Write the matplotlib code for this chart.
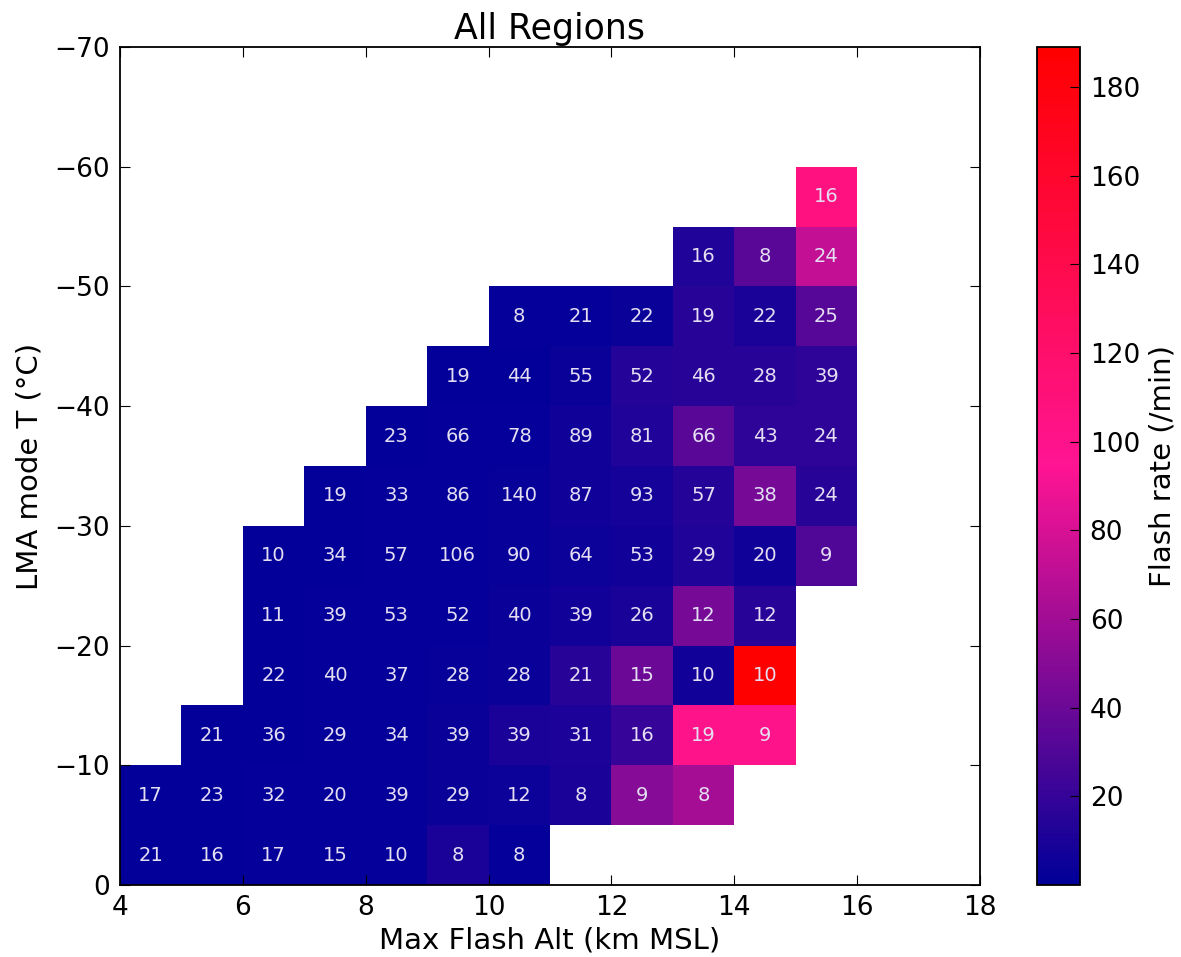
import matplotlib
matplotlib.use('Agg')
import matplotlib.pyplot as plt
from matplotlib.colors import LinearSegmentedColormap
import numpy as np

# bins: max flash altitude (km) and LMA mode temperature (C)
alt_edges = np.arange(4, 17, 1)
temp_edges = np.arange(0, -65, -5)

N = np.nan
# flash counts, rows from 0..-5 C upwards, columns 4-5 km ... 15-16 km
counts = [
    [21, 16, 17, 15, 10, 8, 8, N, N, N, N, N],
    [17, 23, 32, 20, 39, 29, 12, 8, 9, 8, N, N],
    [N, 21, 36, 29, 34, 39, 39, 31, 16, 19, 9, N],
    [N, N, 22, 40, 37, 28, 28, 21, 15, 10, 10, N],
    [N, N, 11, 39, 53, 52, 40, 39, 26, 12, 12, N],
    [N, N, 10, 34, 57, 106, 90, 64, 53, 29, 20, 9],
    [N, N, N, 19, 33, 86, 140, 87, 93, 57, 38, 24],
    [N, N, N, N, 23, 66, 78, 89, 81, 66, 43, 24],
    [N, N, N, N, N, 19, 44, 55, 52, 46, 28, 39],
    [N, N, N, N, N, N, 8, 21, 22, 19, 22, 25],
    [N, N, N, N, N, N, N, N, N, 16, 8, 24],
    [N, N, N, N, N, N, N, N, N, N, N, 16],
]

# flash rate (/min)
rates = [
    [1, 1, 2, 2, 2, 10, 2, N, N, N, N, N],
    [1, 1, 2, 2, 2, 4, 5, 10, 50, 62, N, N],
    [N, 1, 1, 2, 2, 4, 10, 11, 20, 100, 100, N],
    [N, N, 1, 2, 2, 3, 4, 15, 40, 7, 189, N],
    [N, N, 1, 2, 2, 2, 4, 7, 9, 44, 15, N],
    [N, N, 1, 1, 2, 2, 3, 5, 7, 12, 6, 30],
    [N, N, N, 1, 2, 2, 3, 6, 8, 14, 44, 15],
    [N, N, N, N, 1, 2, 2, 6, 12, 33, 17, 17],
    [N, N, N, N, N, 1, 1, 4, 14, 15, 15, 17],
    [N, N, N, N, N, N, 2, 2, 4, 15, 10, 32],
    [N, N, N, N, N, N, N, N, N, 12, 33, 72],
    [N, N, N, N, N, N, N, N, N, N, N, 107],
]

counts = np.array(counts)
rates = np.ma.masked_invalid(np.array(rates))

cmap = LinearSegmentedColormap.from_list('flash', ['#000099', '#ff1493', '#ff0000'])

fig = plt.figure(figsize=(11.81, 9.57), dpi=100)
ax = fig.add_axes([0.1016, 0.0752, 0.7282, 0.8757])
cax = fig.add_axes([0.878, 0.0752, 0.0364, 0.8757])

mesh = ax.pcolormesh(alt_edges, temp_edges, rates, cmap=cmap, vmin=0, vmax=189)

xc = 0.5 * (alt_edges[:-1] + alt_edges[1:])
yc = 0.5 * (temp_edges[:-1] + temp_edges[1:])
for i in range(len(yc)):
    for j in range(len(xc)):
        if not np.isnan(counts[i, j]):
            ax.text(xc[j], yc[i], '%d' % counts[i, j], ha='center', va='center',
                    color='#e4def2', fontsize=14)

ax.set_xlim(4, 18)
ax.set_ylim(0, -70)
ax.set_xticks(np.arange(4, 19, 2))
ax.set_yticks(np.arange(0, -71, -10))
ax.tick_params(direction='in', top=True, right=True, length=7, labelsize=19, pad=7)
ax.set_xlabel('Max Flash Alt (km MSL)', fontsize=21, labelpad=4)
ax.set_ylabel('LMA mode T (°C)', fontsize=21, labelpad=8)
ax.set_title('All Regions', fontsize=25, pad=6)
for s in ax.spines.values():
    s.set_linewidth(1.3)

cb = fig.colorbar(mesh, cax=cax)
cb.set_ticks(np.arange(20, 181, 20))
cb.ax.tick_params(direction='in', length=7, labelsize=19, pad=7)
cb.set_label('Flash rate (/min)', fontsize=21, labelpad=6)
cb.outline.set_linewidth(1.3)

fig.savefig('out.png', dpi=100)
